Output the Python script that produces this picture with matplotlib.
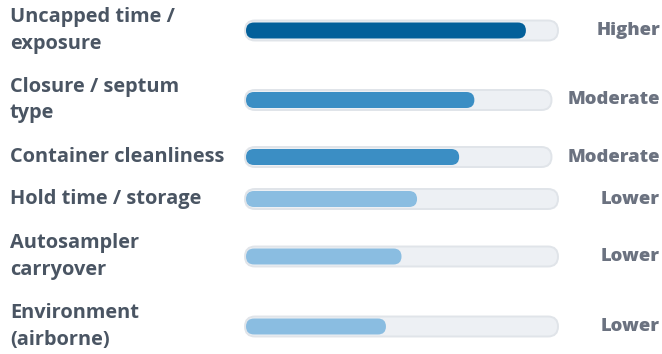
import matplotlib
matplotlib.use("Agg")
import matplotlib.pyplot as plt
from matplotlib.patches import FancyBboxPatch

# data
factors = ["Uncapped time /\nexposure", "Closure / septum\ntype", "Container cleanliness",
           "Hold time / storage", "Autosampler\ncarryover", "Environment\n(airborne)"]
scores = [90, 75, 70, 55, 50, 45]
levels = ["Higher", "Moderate", "Moderate", "Lower", "Lower", "Lower"]

level_colors = {"Higher": "#03609a", "Moderate": "#3b8ec4", "Lower": "#8abde1"}

# layout (pixels)
W, H = 662, 354
row_y = [30.5, 100, 157, 199, 256.5, 326.5]
track_x0 = 245
track_h = 20
fill_h = 16
label_x = 10
right_x = 660
px = 0.72  # px -> pt at dpi 100

plt.rcParams['font.family'] = ['Open Sans', 'DejaVu Sans']

fig = plt.figure(figsize=(W / 100, H / 100), dpi=100)
ax = fig.add_axes([0, 0, 1, 1])
ax.set_xlim(0, W)
ax.set_ylim(H, 0)
ax.axis("off")

fig.canvas.draw()
renderer = fig.canvas.get_renderer()

for name, val, lev, y in zip(factors, scores, levels, row_y):
    ax.text(label_x, y, name, ha="left", va="center", fontsize=20 * px,
            fontweight="bold", color="#4a5563", linespacing=1.42)
    t = ax.text(right_x, y, lev, ha="right", va="center", fontsize=18.5 * px,
                fontweight="heavy", color="#6b7280")
    bb = t.get_window_extent(renderer)
    # text left edge in data coords (x axis is 1px per unit)
    left = ax.transData.inverted().transform((bb.x0, bb.y0))[0]
    track_x1 = min(558, left - 16)

    track = FancyBboxPatch((track_x0, y - track_h / 2), track_x1 - track_x0, track_h,
                           boxstyle="round,pad=0,rounding_size=%g" % (track_h / 2),
                           facecolor="#edf0f4", edgecolor="#e0e4e9", lw=1.4)
    ax.add_patch(track)
    inner = (track_x1 - 1) - (track_x0 + 1)
    fw = inner * val / 100
    fill = FancyBboxPatch((track_x0 + 1, y - fill_h / 2), fw, fill_h,
                          boxstyle="round,pad=0,rounding_size=%g" % (fill_h / 2),
                          facecolor=level_colors[lev], edgecolor="none")
    ax.add_patch(fill)

fig.savefig("out.png", dpi=100, facecolor="white")
